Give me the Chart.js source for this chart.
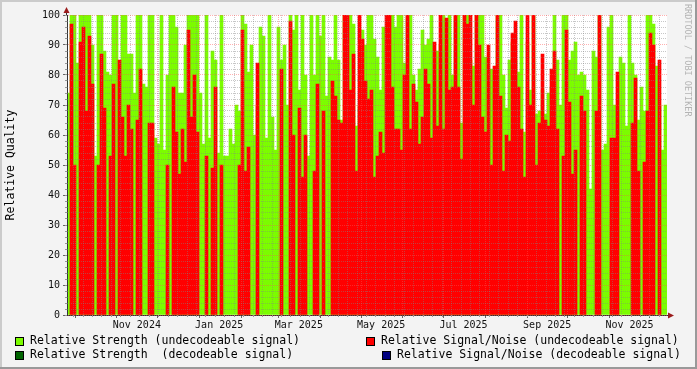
<!DOCTYPE html>
<html>
<head>
<meta charset="utf-8">
<script src="https://cdn.jsdelivr.net/npm/chart.js@4.4.1/dist/chart.umd.min.js"></script>
<style>
  html, body { margin: 0; padding: 0; background: #f3f3f3; }
  #wrap { width: 697px; height: 369px; }
</style>
</head>
<body>
<div id="wrap"><canvas id="quality" width="697" height="369"></canvas></div>
<script>
'use strict';

// one sample every ~2.2 days, late Sep 2024 .. mid Dec 2025
const strengthUndecodeable = [
    74, 100, 100, 84, 100, 100, 100, 100, 90, 53,
    100, 100, 88, 81, 80, 100, 100, 78, 100, 100,
    87, 87, 74, 100, 100, 77, 76, 100, 100, 59,
    57, 100, 55, 80, 100, 100, 96, 74, 74, 90,
    100, 100, 100, 100, 74, 57, 100, 59, 88, 85,
    54, 100, 53, 53, 62, 57, 70, 68, 100, 97,
    81, 90, 60, 70, 96, 93, 59, 100, 66, 55,
    96, 85, 90, 70, 100, 95, 100, 75, 100, 80,
    53, 100, 80, 100, 93, 100, 73, 86, 85, 100,
    85, 65, 100, 98, 100, 97, 63, 70, 95, 90,
    100, 100, 92, 86, 75, 96, 90, 77, 100, 96,
    100, 100, 84, 100, 100, 80, 75, 82, 95, 90,
    92, 100, 88, 88, 90, 100, 89, 100, 80, 100,
    100, 64, 100, 100, 85, 83, 100, 100, 100, 86,
    80, 82, 80, 100, 100, 80, 69, 85, 91, 85,
    81, 100, 61, 91, 75, 100, 67, 68, 75, 67,
    74, 76, 100, 85, 70, 100, 100, 85, 88, 91,
    80, 81, 80, 75, 42, 88, 86, 100, 55, 57,
    96, 100, 70, 69, 86, 84, 63, 100, 84, 80,
    65, 76, 68, 100, 100, 97, 83, 70, 55, 70
];

const snrUndecodeable = [
    null, 97, 50, null, 91, 96, 68, 93, 77, null,
    50, 87, 69, null, 53, 77, null, 85, 66, 53,
    70, 62, null, 65, 82, null, null, 64, 64, null,
    null, null, null, 50, null, 76, 61, 47, 62, 51,
    95, 66, 80, 61, null, null, 53, null, 49, 76,
    null, 50, null, null, null, null, null, 50, 95, 48,
    56, null, null, 84, null, null, null, null, null, null,
    null, 82, null, null, 98, 60, null, 69, 46, 60,
    null, null, 48, 77, null, 68, null, null, 78, 73,
    65, 64, 100, 100, 75, 87, 48, 100, 92, 78,
    72, 75, 46, 53, 61, 54, 100, 100, 76, 62,
    62, 55, 80, 100, 62, 77, 71, 57, 66, 82,
    77, 59, 91, 63, 100, 62, 99, 75, 76, 100,
    76, 52, 100, 97, 100, 70, 100, 90, 66, 61,
    90, 50, 83, 100, 73, 48, 60, 58, 94, 98,
    76, 62, 46, 100, 70, 100, 50, 64, 87, 65,
    63, 82, 88, 62, null, 53, 95, 71, 47, 55,
    null, 73, 68, null, null, null, 68, 100, null, null,
    null, 59, 59, 81, null, null, null, null, 64, 79,
    48, null, 51, 68, 94, 90, null, 85, null, null
];

// nothing decoded in this period
const strengthDecodeable = [];
const snrDecodeable = [];

const samples = strengthUndecodeable.map((v, i) => 'sample ' + i);

// time axis in days since 1 Oct 2024
const firstDay = -5.93;
const lastDay = 438.6;
const monthStarts = [0, 31, 61, 92, 123, 151, 182, 212, 243, 273, 304, 335, 365, 396, 426];
const monthLabels = ['', 'Nov 2024', '', 'Jan 2025', '', 'Mar 2025', '', 'May 2025', '', 'Jul 2025', '', 'Sep 2025', '', 'Nov 2025', ''];

const legendRows = [
    { text: 'Relative Strength (undecodeable signal)', color: '#7cfc00', box: 15, y: 341 },
    { text: 'Relative Signal/Noise (undecodeable signal)', color: '#ff0000', box: 366, y: 341 },
    { text: 'Relative Strength  (decodeable signal)', color: '#006400', box: 15, y: 355 },
    { text: 'Relative Signal/Noise (decodeable signal)', color: '#000080', box: 382, y: 355 }
];

const mono = "'DejaVu Sans Mono', monospace";
const majorGrid = 'rgba(255, 80, 80, 0.45)';
const minorGrid = 'rgba(130, 130, 130, 0.45)';
const arrowColor = '#9b1c1c';

// rrdtool style frame, legend, arrows and watermark
const rrdLook = {
    id: 'rrdLook',
    beforeDraw(chart) {
        const c = chart.ctx, a = chart.chartArea;
        c.save();
        c.fillStyle = '#f3f3f3';
        c.fillRect(0, 0, chart.width, chart.height);
        c.fillStyle = '#cbcbcb';
        c.fillRect(0, 0, chart.width, 2);
        c.fillRect(0, 0, 2, chart.height);
        c.fillStyle = '#999999';
        c.fillRect(0, chart.height - 2, chart.width, 2);
        c.fillRect(chart.width - 2, 0, 2, chart.height);
        c.fillStyle = '#ffffff';
        c.fillRect(a.left, a.top, a.right - a.left, a.bottom - a.top);
        c.restore();
    },
    afterDraw(chart) {
        const c = chart.ctx, a = chart.chartArea;
        c.save();
        // axis extensions and arrows
        c.strokeStyle = '#333';
        c.lineWidth = 1;
        c.beginPath();
        c.moveTo(a.left - 0.5, a.top);
        c.lineTo(a.left - 0.5, a.top - 4);
        c.moveTo(a.right, a.bottom + 0.5);
        c.lineTo(a.right + 3, a.bottom + 0.5);
        c.stroke();
        c.fillStyle = arrowColor;
        c.beginPath();
        c.moveTo(a.left - 3.5, a.top - 2);
        c.lineTo(a.left + 2.5, a.top - 2);
        c.lineTo(a.left - 0.5, a.top - 8);
        c.closePath();
        c.fill();
        c.beginPath();
        c.moveTo(a.right + 1, a.bottom - 2.5);
        c.lineTo(a.right + 1, a.bottom + 3.5);
        c.lineTo(a.right + 7, a.bottom + 0.5);
        c.closePath();
        c.fill();

        // legend
        c.font = '11.5px ' + mono;
        c.textBaseline = 'middle';
        c.textAlign = 'left';
        legendRows.forEach(r => {
            c.fillStyle = r.color;
            c.fillRect(r.box, r.y - 4, 9, 9);
            c.strokeStyle = '#000';
            c.strokeRect(r.box + 0.5, r.y - 3.5, 8, 8);
            c.fillStyle = '#000';
            c.fillText(r.text, r.box + 15, r.y + 0.5);
        });

        // watermark
        c.translate(691, 4);
        c.rotate(Math.PI / 2);
        c.font = '8.5px ' + mono;
        c.fillStyle = '#b4b4b4';
        c.textBaseline = 'top';
        c.fillText('RRDTOOL / TOBI OETIKER', 0, 0);
        c.restore();
    }
};

const mondays = [];
for (let d = -1; d <= lastDay; d += 7) mondays.push(d);

new Chart(document.getElementById('quality'), {
    type: 'bar',
    data: {
        labels: samples,
        datasets: [
            { label: 'Relative Signal/Noise (decodeable signal)', data: snrDecodeable, backgroundColor: '#000080', order: 0 },
            { label: 'Relative Strength  (decodeable signal)', data: strengthDecodeable, backgroundColor: '#006400', order: 1 },
            { label: 'Relative Signal/Noise (undecodeable signal)', data: snrUndecodeable, backgroundColor: '#ff0000', order: 2 },
            { label: 'Relative Strength (undecodeable signal)', data: strengthUndecodeable, backgroundColor: '#7cfc00', order: 3 }
        ]
    },
    options: {
        responsive: false,
        animation: false,
        layout: { padding: { left: 0, right: 30, top: 15, bottom: 0 } },
        datasets: {
            bar: { barPercentage: 1, categoryPercentage: 1, grouped: false, borderWidth: 0 }
        },
        plugins: {
            legend: { display: false },
            tooltip: { enabled: false }
        },
        scales: {
            x: { type: 'category', display: false, offset: true },
            days: {
                type: 'linear',
                position: 'bottom',
                weight: 1,
                offset: false,
                min: firstDay,
                max: lastDay,
                afterBuildTicks: s => { s.ticks = monthStarts.map(v => ({ value: v })); },
                afterFit: s => { s.height = 54; },
                ticks: {
                    autoSkip: false,
                    maxRotation: 0,
                    labelOffset: 20,
                    padding: 1,
                    color: '#111',
                    font: { family: mono, size: 10 },
                    callback: (v, i) => monthLabels[i]
                },
                grid: { offset: false, color: majorGrid, z: 1, tickLength: 3, tickColor: '#666' },
                border: { display: true, color: '#333', dash: [1, 1], z: 1 }
            },
            weeks: {
                type: 'linear',
                position: 'bottom',
                weight: 0,
                offset: false,
                min: firstDay,
                max: lastDay,
                afterBuildTicks: s => { s.ticks = mondays.map(v => ({ value: v })); },
                afterFit: s => { s.height = 0; },
                ticks: { display: false },
                grid: {
                    offset: false,
                    color: ctx => (ctx.tick && monthStarts.includes(ctx.tick.value)) ? 'rgba(0,0,0,0)' : minorGrid,
                    z: 1, tickLength: 2, tickColor: '#999'
                },
                border: { display: false, dash: [1, 1] }
            },
            y: {
                position: 'left',
                weight: 1,
                min: 0,
                max: 100,
                afterFit: s => { s.width = 67; },
                ticks: { stepSize: 10, padding: 3, color: '#111', font: { family: mono, size: 10 } },
                grid: { color: majorGrid, z: 1, tickLength: 4, tickColor: '#666' },
                border: { display: true, color: '#333', dash: [1, 1], z: 1 },
                title: {
                    display: true,
                    text: 'Relative Quality',
                    color: '#000',
                    font: { family: mono, size: 11.5 },
                    padding: { top: 4, bottom: 0 }
                }
            },
            yMinor: {
                type: 'linear',
                position: 'left',
                weight: 0,
                min: 0,
                max: 100,
                afterFit: s => { s.width = 0; },
                ticks: { stepSize: 2, display: false },
                grid: {
                    color: ctx => (ctx.tick && ctx.tick.value % 10 === 0) ? 'rgba(0,0,0,0)' : minorGrid,
                    z: 1, tickLength: 2, tickColor: '#999'
                },
                border: { display: false, dash: [1, 1] }
            }
        }
    },
    plugins: [rrdLook]
});
</script>
</body>
</html>
